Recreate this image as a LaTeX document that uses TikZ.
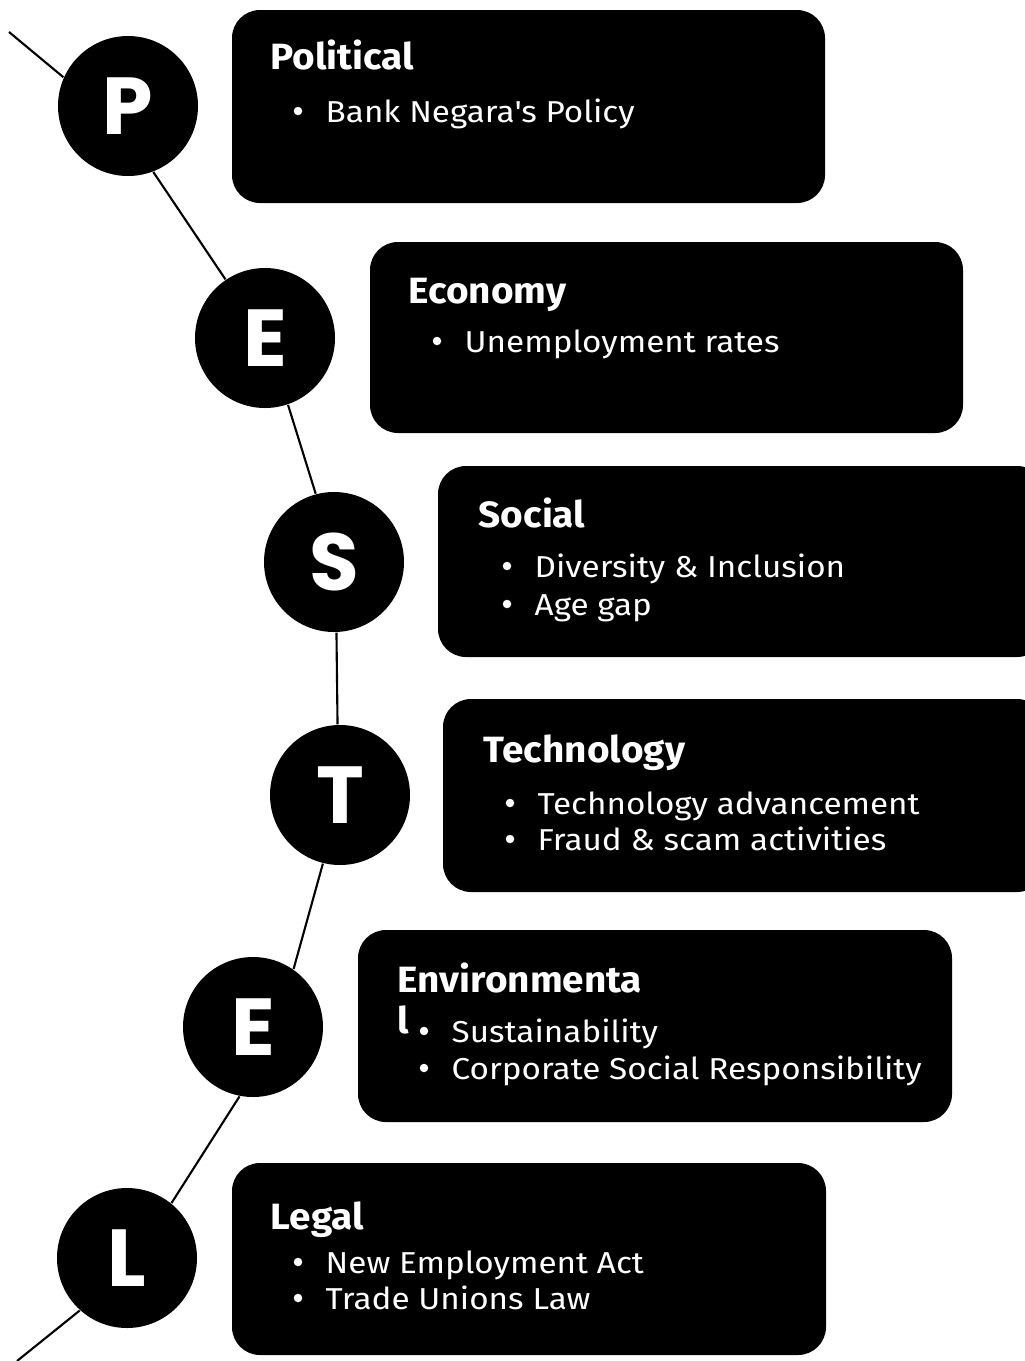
\documentclass[tikz,border=0pt]{standalone}
\usepackage{fontspec}
\setmainfont{Fira Sans}[FakeStretch=1.1]
\newfontfamily\headfont{Fira Sans}[FakeStretch=1.06]
\newfontfamily\letterfont{Poppins}

\tikzset{
    letter/.style={circle, fill=black, minimum size=14mm, inner sep=0pt, text=white,
        font=\letterfont\bfseries\fontsize{23}{24}\selectfont},
    card/.style={fill=black, rounded corners=2.8mm},
    heading/.style={anchor=base west, inner sep=0pt, text=white,
        font=\headfont\bfseries\fontsize{10.4}{12}\selectfont},
    itemtext/.style={anchor=base west, inner sep=0pt, text=white,
        font=\fontsize{8.6}{10}\selectfont},
    dot/.style={circle, fill=white, inner sep=0pt, minimum size=0.85mm},
    spine/.style={line width=0.6pt}
}

% bullet point: name, bullet x, baseline y, text
\newcommand{\listitem}[4]{%
    \node[dot] (#1b) at (#2,#3-11) {};
    \node[itemtext] (#1) at (#2+27,#3) {#4};
}

\begin{document}
\begin{tikzpicture}[x=0.1mm,y=-0.1mm]
            \clip (0,0) rectangle (1025,1361);
            \fill[white] (0,0) rectangle (1025,1361);

            \node[letter] (p) at (128,106) {P};
            \node[letter] (e1) at (265,338) {E};
            \node[letter] (s) at (334,562) {S};
            \node[letter] (t) at (340,795) {T};
            \node[letter] (e2) at (253,1027) {E};
            \node[letter] (l) at (127,1258) {L};

            \coordinate (top) at (9,32);
            \coordinate (bottom) at (17,1361);

            \draw[spine] (top) -- (p.156);
            \draw[spine] (p.-69) -- (e1.124);
            \draw[spine] (e1.-71) -- (s.105);
            \draw[spine] (s.-88) -- (t.92);
            \draw[spine] (t.-104) -- (e2.55);
            \draw[spine] (e2.-101) -- (l.51);
            \draw[spine] (l.-132) -- (bottom);

            % Political
            \fill[card] (232,10) rectangle (825,203);
            \node[heading] (poltitle) at (270,69) {Political};
            \listitem{pol1}{298}{122}{Bank Negara\textquotesingle s Policy}

            % Economy
            \fill[card] (370,242) rectangle (963,433);
            \node[heading] (ecotitle) at (408,303) {Economy};
            \listitem{eco1}{437}{352}{Unemployment rates}

            % Social
            \fill[card] (438,466) rectangle (1045,657);
            \node[heading] (soctitle) at (478,527) {Social};
            \listitem{soc1}{507}{577}{Diversity \& Inclusion}
            \listitem{soc2}{507}{615}{Age gap}

            % Technology
            \fill[card] (443,699) rectangle (1045,892);
            \node[heading] (techtitle) at (483,762) {Technology};
            \listitem{tech1}{510}{814}{Technology advancement}
            \listitem{tech2}{510}{850}{Fraud \& scam activities}

            % Environmental
            \fill[card] (358,930) rectangle (952,1122);
            \node[heading] (envtitle) at (397,992) {Environmenta};
            \node[heading] (envtail) at (397,1033) {l};
            \listitem{env1}{424}{1042}{Sustainability}
            \listitem{env2}{424}{1079}{Corporate Social Responsibility}

            % Legal
            \fill[card] (232,1163) rectangle (826,1355);
            \node[heading] (legtitle) at (270,1229) {Legal};
            \listitem{leg1}{298}{1273}{New Employment Act}
            \listitem{leg2}{298}{1309}{Trade Unions Law}
        \end{tikzpicture}
\end{document}
